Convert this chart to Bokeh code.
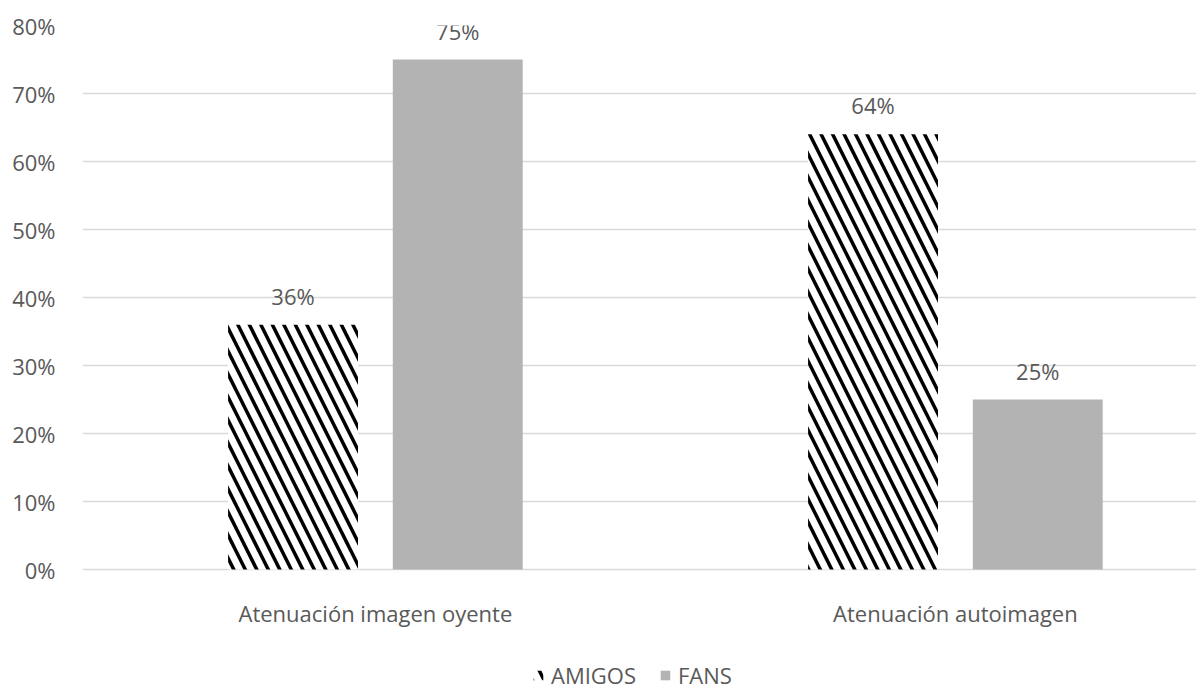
from bokeh.plotting import figure
from bokeh.models import (ColumnDataSource, Range1d, LabelSet, Legend, LegendItem,
                          NumeralTickFormatter, FixedTicker)
from bokeh.core.properties import value
from bokeh.embed import file_html
from bokeh.resources import INLINE

categories = ["Atenuación imagen oyente", "Atenuación autoimagen"]
series = ["AMIGOS", "FANS"]
amigos = [0.36, 0.64]
fans = [0.75, 0.25]
y_ticks = [0, 0.1, 0.2, 0.3, 0.4, 0.5, 0.6, 0.7, 0.8]

FONT = "Open Sans"
FS = "22px"
TXT = "#595959"

idx = list(range(len(categories)))
off = 0.142
bw = 0.224

src_a = ColumnDataSource(dict(x=[i - off for i in idx], y=amigos,
                              lab=[f"{round(v*100)}%" for v in amigos]))
src_f = ColumnDataSource(dict(x=[i + off for i in idx], y=fans,
                              lab=[f"{round(v*100)}%" for v in fans]))
src_c = ColumnDataSource(dict(x=idx, y=[0] * len(idx), lab=categories))

W, H = 1196, 690
TOP, LEFT = 25, 82
PX_PER_UNIT_Y = (569 - TOP) / 0.8
p = figure(width=W, height=H, output_backend="svg", toolbar_location=None,
           x_range=Range1d(-0.505, -0.505 + (W - LEFT) / 580),
           y_range=Range1d(-(H - 569) / PX_PER_UNIT_Y, 0.8),
           min_border_left=LEFT, min_border_top=TOP, min_border_right=0,
           min_border_bottom=0)
p.outline_line_color = None
p.background_fill_color = "white"
p.border_fill_color = "white"

r_a = p.vbar(x="x", top="y", width=bw, source=src_a, fill_color="white",
             line_color=None, hatch_pattern="\\", hatch_color="black",
             hatch_scale=23, hatch_weight=3.5)
r_f = p.vbar(x="x", top="y", width=bw, source=src_f, fill_color="#B3B3B3",
             line_color=None)

for s in (src_a, src_f):
    p.add_layout(LabelSet(x="x", y="y", text="lab", source=s, text_align="center",
                          text_baseline="middle", y_offset=29, text_font=value(FONT),
                          text_font_size=FS, text_color=TXT))

# category labels under the baseline
p.add_layout(LabelSet(x="x", y="y", text="lab", source=src_c, text_align="center",
                      text_baseline="middle", y_offset=-43, text_font=value(FONT),
                      text_font_size=FS, text_color=TXT))

p.xaxis.visible = False
p.yaxis.ticker = FixedTicker(ticks=y_ticks)
p.yaxis.formatter = NumeralTickFormatter(format="0%")
p.yaxis.axis_line_color = None
p.yaxis.major_tick_line_color = None
p.yaxis.minor_tick_line_color = None
p.yaxis.major_tick_out = 0
p.yaxis.major_label_text_font = FONT
p.yaxis.major_label_text_font_size = FS
p.yaxis.major_label_text_color = TXT
p.yaxis.major_label_standoff = 27

p.xgrid.grid_line_color = None
p.ygrid.ticker = FixedTicker(ticks=y_ticks)
p.ygrid.grid_line_color = "#D9D9D9"
p.ygrid.grid_line_width = 1.5

legend = Legend(items=[LegendItem(label=series[0], renderers=[r_a]),
                       LegendItem(label=series[1], renderers=[r_f])],
                orientation="horizontal", location=(450, 0),
                label_text_font=FONT, label_text_font_size=FS,
                label_text_color=TXT, glyph_width=12, glyph_height=12,
                label_standoff=7, spacing=23, padding=0, margin=0,
                border_line_color=None, background_fill_alpha=0)
p.add_layout(legend, "center")

open("out.html", "w").write(file_html(p, INLINE))
